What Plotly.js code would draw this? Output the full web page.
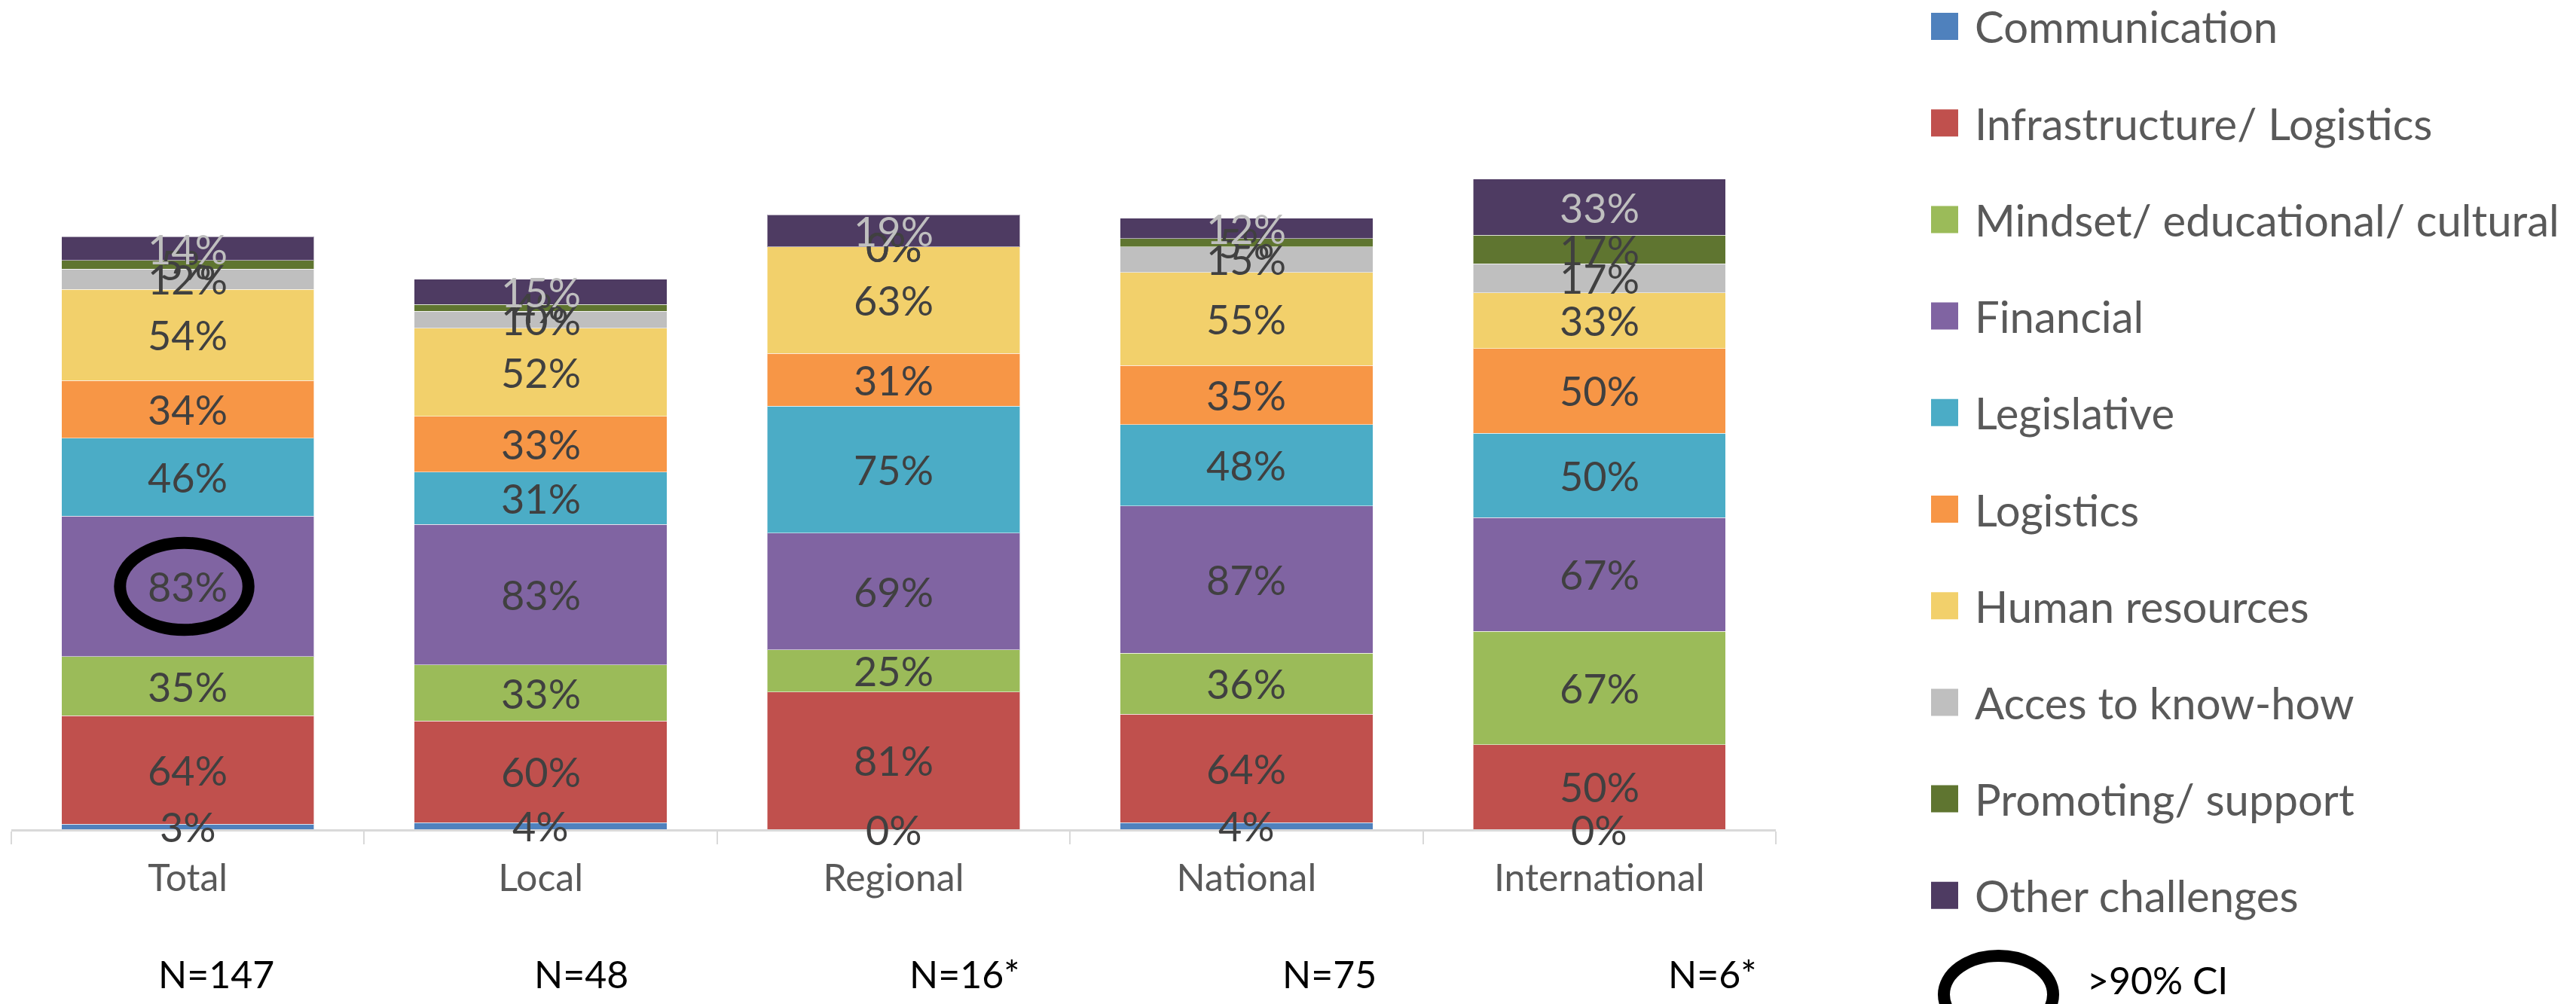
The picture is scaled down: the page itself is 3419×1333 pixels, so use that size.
<!DOCTYPE html>
<html>
<head>
<meta charset="utf-8">
<script src="https://cdn.plot.ly/plotly-3.0.1.min.js"></script>
<style>
  html, body { margin: 0; padding: 0; background: #ffffff; }
  #chart { width: 3419px; height: 1333px; }
</style>
</head>
<body>
<div id="chart"></div>
<script>
// Categories and sample sizes
const categories = ['Total', 'Local', 'Regional', 'National', 'International'];
const sampleLabels = ['N=147', 'N=48', 'N=16*', 'N=75', 'N=6*'];

// Share of respondents naming each challenge (%), per category
const communication   = [3, 4, 0, 4, 0];
const infrastructure  = [64, 60, 81, 64, 50];
const mindset         = [35, 33, 25, 36, 67];
const financial       = [83, 83, 69, 87, 67];
const legislative     = [46, 31, 75, 48, 50];
const logistics       = [34, 33, 31, 35, 50];
const humanResources  = [54, 52, 63, 55, 33];
const knowHow         = [12, 10, 0, 15, 17];
const promoting       = [5, 4, 0, 5, 17];
const otherChallenges = [14, 15, 19, 12, 33];

const seriesNames = [
  'Communication', 'Infrastructure/ Logistics', 'Mindset/ educational/ cultural',
  'Financial', 'Legislative', 'Logistics', 'Human resources',
  'Acces to know-how', 'Promoting/ support', 'Other challenges'
];
const seriesValues = [
  communication, infrastructure, mindset, financial, legislative,
  logistics, humanResources, knowHow, promoting, otherChallenges
];
const seriesColors = [
  '#4F81BD', '#C0504D', '#9BBB59', '#8064A2', '#4BACC6',
  '#F79646', '#F2D06B', '#BFBFBF', '#5F7530', '#4E3B62'
];
const labelColors = [
  '#404040', '#404040', '#404040', '#404040', '#404040',
  '#404040', '#404040', '#404040', '#404040', '#BFBFBF'
];

// Highlighted cell (>90% CI): Total / Financial
const highlight = { category: 0, series: 3 };

// ---- layout geometry (pixels) ----
const W = 3419, H = 1333;
const M = { l: 15, r: 1062, t: 202, b: 232 };
const plotW = W - M.l - M.r;
const plotH = H - M.t - M.b;
const yMax = 400;
const FONT = 'Lato, "Open Sans", sans-serif';

const px2paperX = X => (X - M.l) / plotW;
const px2paperY = Y => (H - M.b - Y) / plotH;

const traces = seriesNames.map((name, i) => ({
  type: 'bar',
  name: name,
  x: categories,
  y: seriesValues[i],
  marker: { color: seriesColors[i], line: { color: 'rgba(255,255,255,0.55)', width: 1 } },
  hoverinfo: 'skip',
  showlegend: false
}));

// Value labels centred in each stacked segment; later series drawn on top
const annotations = [];
const cum = categories.map(() => 0);
seriesValues.forEach((vals, i) => {
  vals.forEach((v, c) => {
    annotations.push({
      x: categories[c], y: cum[c] + v / 2, xref: 'x', yref: 'y',
      text: v + '%', showarrow: false,
      xanchor: 'center', yanchor: 'middle',
      font: { family: FONT, size: 54, color: labelColors[i] }
    });
    cum[c] += v;
  });
});

// Sample size notes under the axis
const sampleOffsets = [0.08, 0.115, 0.2, 0.235, 0.32];
sampleLabels.forEach((t, c) => {
  annotations.push({
    x: c + sampleOffsets[c], y: px2paperY(1293), xref: 'x', yref: 'paper',
    text: t, showarrow: false, xanchor: 'center', yanchor: 'middle',
    font: { family: FONT, size: 50, color: '#000000' }
  });
});

// Legend built from the series list
const shapes = [];
const legendTop = 35, legendStep = 128.2;
seriesNames.forEach((name, i) => {
  const yc = legendTop + i * legendStep;
  shapes.push({
    type: 'rect', xref: 'paper', yref: 'paper',
    x0: px2paperX(2563), x1: px2paperX(2599),
    y0: px2paperY(yc + 18), y1: px2paperY(yc - 18),
    fillcolor: seriesColors[i], line: { width: 0 }
  });
  annotations.push({
    x: px2paperX(2619), y: px2paperY(yc), xref: 'paper', yref: 'paper',
    text: name, showarrow: false, xanchor: 'left', yanchor: 'middle',
    font: { family: FONT, size: 58, color: '#595959' }
  });
});

// CI marker key
shapes.push({
  type: 'circle', xref: 'paper', yref: 'paper',
  x0: px2paperX(2580), x1: px2paperX(2725),
  y0: px2paperY(1372), y1: px2paperY(1269),
  line: { color: '#000000', width: 16 }, fillcolor: 'rgba(0,0,0,0)'
});
annotations.push({
  x: px2paperX(2768), y: px2paperY(1333), xref: 'paper', yref: 'paper',
  text: '>90% CI', showarrow: false, xanchor: 'left', yanchor: 'bottom',
  font: { family: FONT, size: 50, color: '#000000' }
});

// Ring around the highlighted value
{
  let base = 0;
  for (let s = 0; s < highlight.series; s++) base += seriesValues[s][highlight.category];
  const mid = base + seriesValues[highlight.series][highlight.category] / 2;
  shapes.push({
    type: 'circle', xref: 'x', yref: 'y',
    x0: highlight.category - 0.192, x1: highlight.category + 0.172,
    y0: mid - 25.7, y1: mid + 25.7,
    line: { color: '#000000', width: 16 }, fillcolor: 'rgba(0,0,0,0)'
  });
}

const layout = {
  width: W, height: H,
  margin: M,
  barmode: 'stack',
  bargap: 0.284,
  paper_bgcolor: '#ffffff',
  plot_bgcolor: '#ffffff',
  showlegend: false,
  xaxis: {
    type: 'category',
    range: [-0.5, 4.5],
    showline: true, linecolor: '#D9D9D9', linewidth: 3,
    ticks: 'outside', tickson: 'boundaries', ticklen: 17,
    tickcolor: '#D9D9D9', tickwidth: 2,
    ticklabelstandoff: 19,
    tickfont: { family: FONT, size: 50, color: '#595959' },
    showgrid: false, zeroline: false, fixedrange: true
  },
  yaxis: {
    range: [0, yMax], visible: false, showgrid: false, zeroline: false, fixedrange: true
  },
  annotations: annotations,
  shapes: shapes
};

Plotly.newPlot('chart', traces, layout, { staticPlot: true, displayModeBar: false });
</script>
</body>
</html>
